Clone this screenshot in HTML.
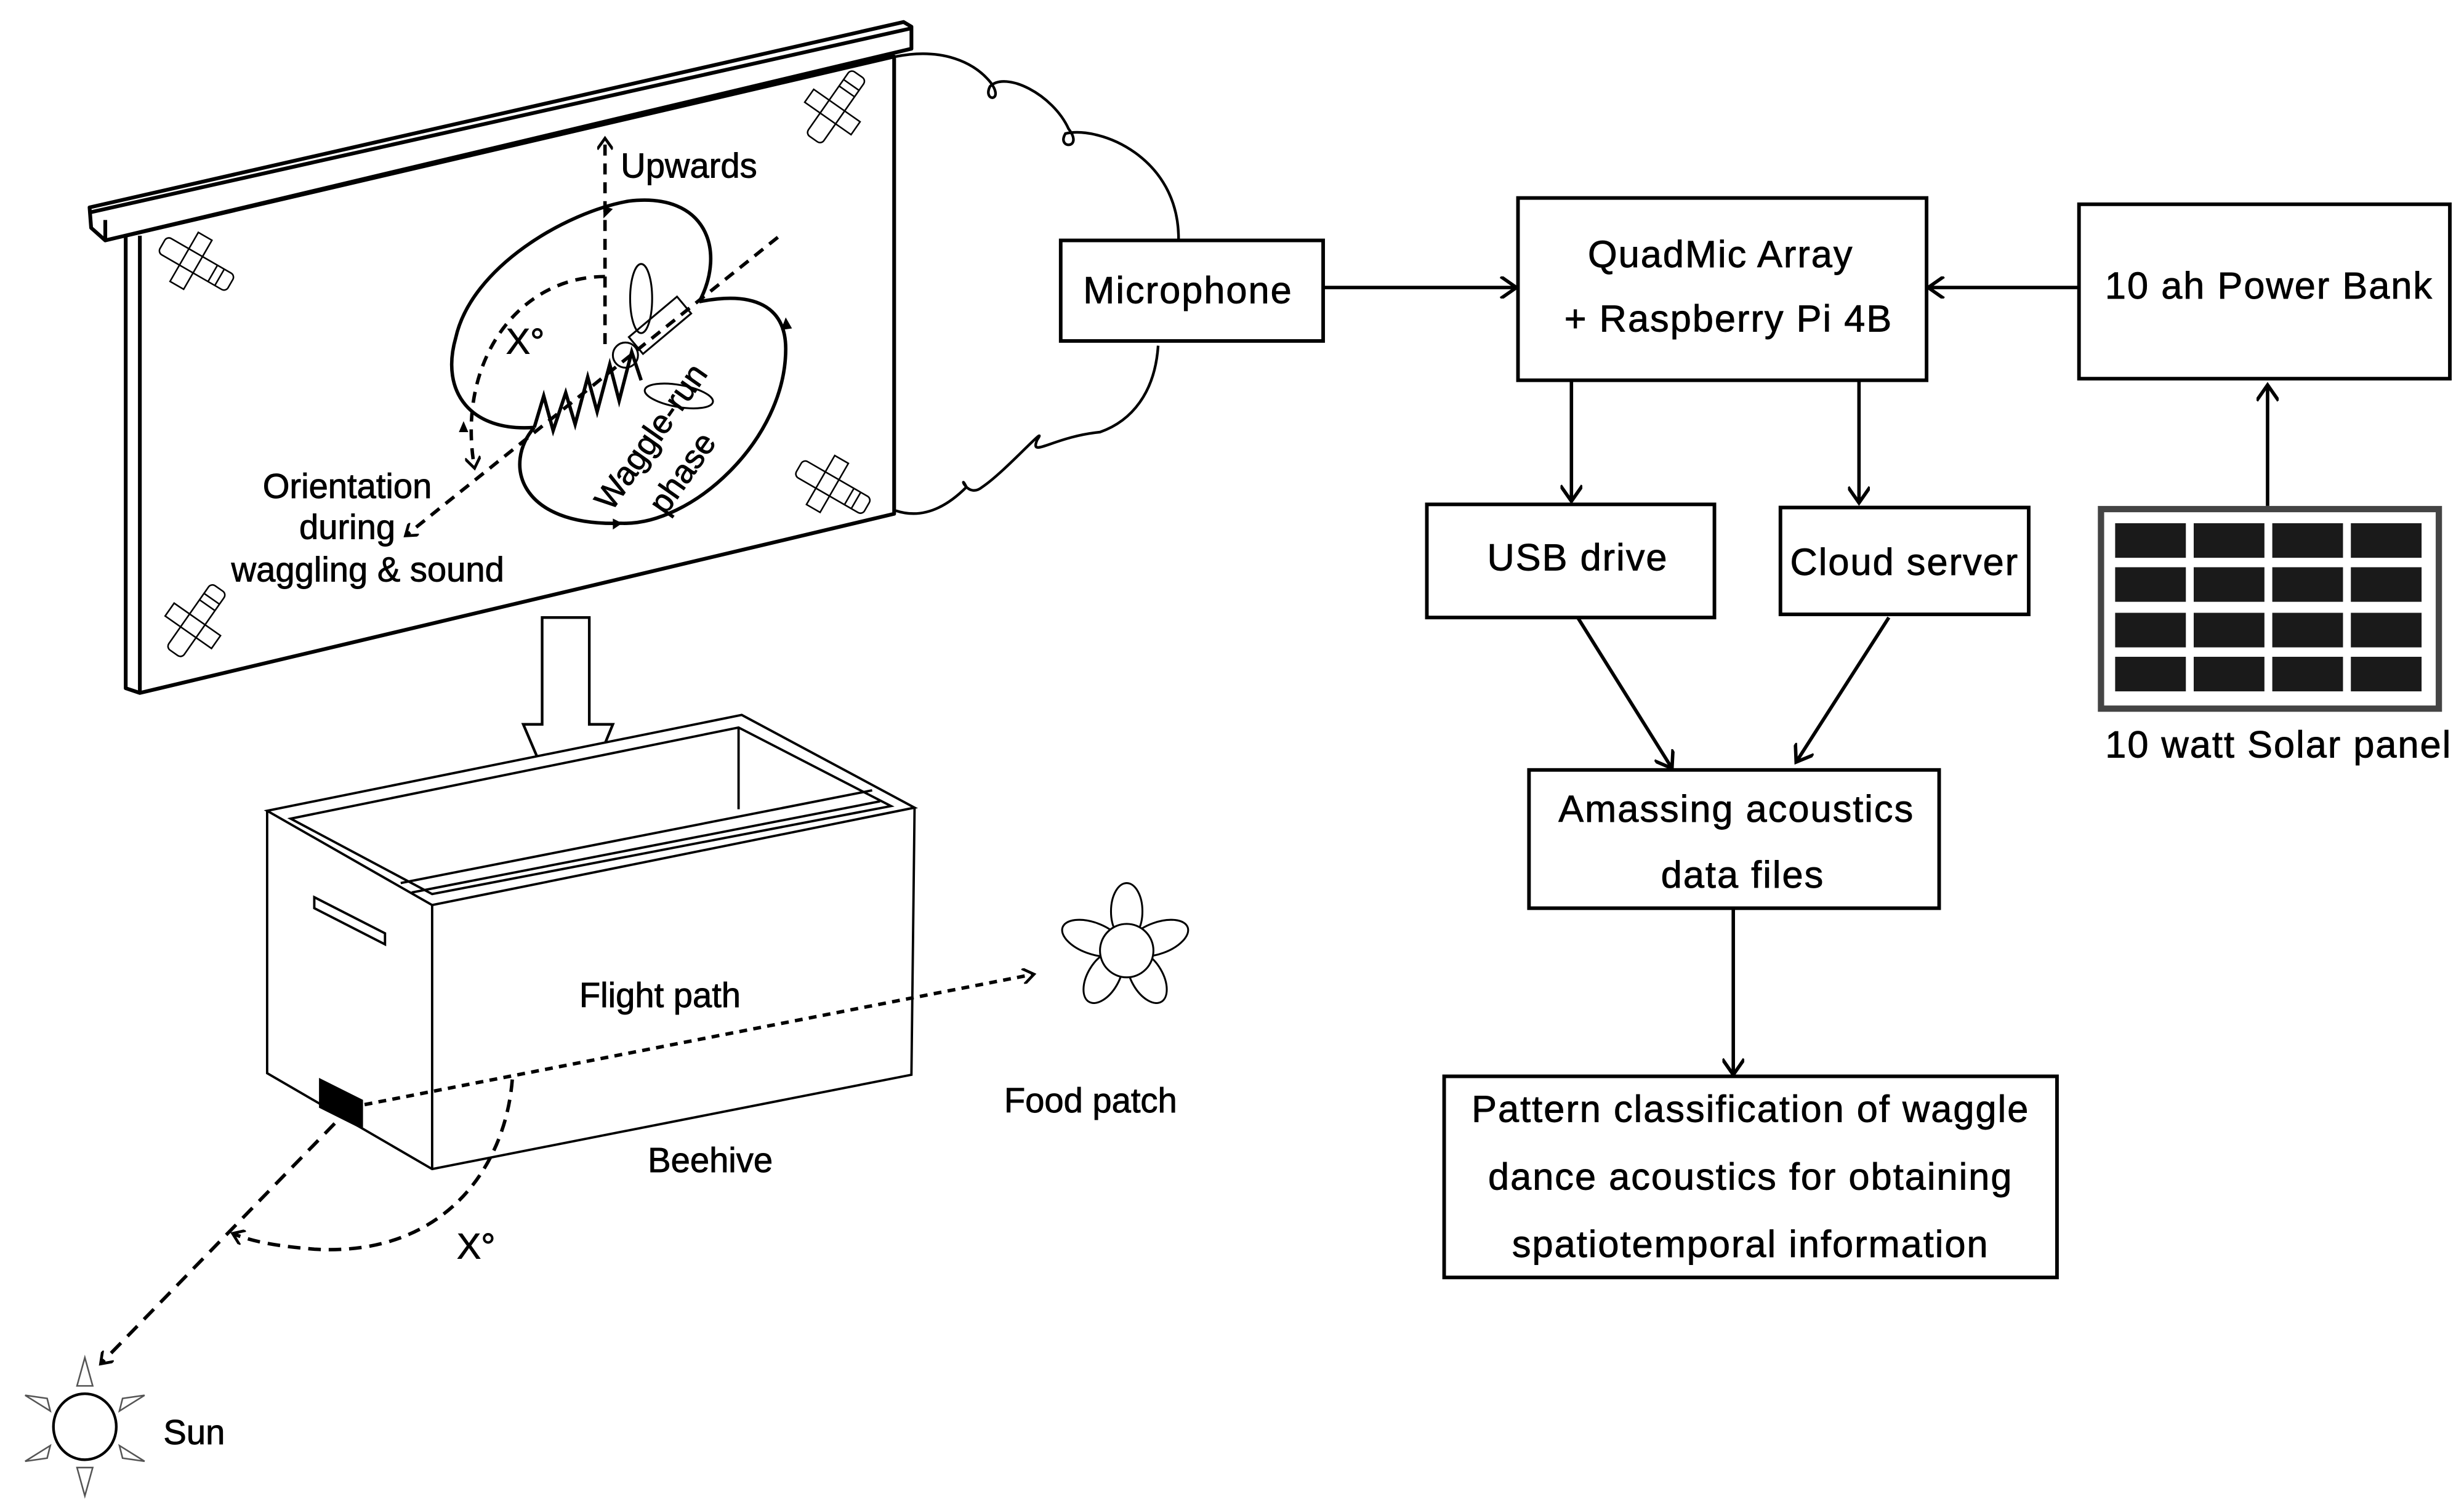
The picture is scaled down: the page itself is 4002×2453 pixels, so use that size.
<!DOCTYPE html>
<html><head><meta charset="utf-8"><style>
html,body{margin:0;padding:0;background:#fff;}
svg{display:block;}
text{font-family:"Liberation Sans",sans-serif;fill:#000;stroke:#000;stroke-width:0.35;}
</style></head><body>
<svg width="4002" height="2453" viewBox="0 0 1568 961" preserveAspectRatio="none" xmlns="http://www.w3.org/2000/svg">
<defs>
<marker id="oa" markerWidth="14" markerHeight="14" refX="11" refY="7" orient="auto" markerUnits="userSpaceOnUse">
<path d="M1,0 L11,7 L1,14" fill="none" stroke="#000" stroke-width="2.2"/></marker>
<marker id="sa" markerWidth="10" markerHeight="10" refX="8" refY="5" orient="auto" markerUnits="userSpaceOnUse">
<path d="M1,0 L8,5 L1,10" fill="none" stroke="#000" stroke-width="1.8"/></marker>
<marker id="fa" markerWidth="10" markerHeight="10" refX="8" refY="5" orient="auto" markerUnits="userSpaceOnUse">
<path d="M0,0 L9,5 L0,10 Z" fill="#000"/></marker>
<g id="tape" fill="#fff" stroke="#000" stroke-width="1">
<rect x="-25" y="-6" width="50" height="12" rx="3"/>
<line x1="12" y1="-6" x2="12" y2="6"/><line x1="17" y1="-6" x2="17" y2="6"/>
<rect x="-9" y="-18" width="10" height="36" fill="none"/>
</g>
</defs>
<rect width="1568" height="961" fill="#fff"/>

<!-- Frame -->
<g fill="#fff" stroke="#000" stroke-width="2.4" stroke-linejoin="round">
<polygon points="80,150 569,36 569,327 89,441 80,438"/>
<line x1="89" y1="150" x2="89" y2="441"/>
<polygon points="57,132 575,14 580,17 580,31 67,153 58,145"/>
<line x1="58" y1="135" x2="580" y2="18"/>
<line x1="67" y1="140" x2="67" y2="153"/>
</g>
<use href="#tape" transform="translate(125,168) rotate(30)"/>
<use href="#tape" transform="translate(532,68) rotate(-55)"/>
<use href="#tape" transform="translate(530,310) rotate(30)"/>
<use href="#tape" transform="translate(125,395) rotate(-55)"/>

<!-- Cloud wire -->
<path d="M570,36 C600,30 620,40 630,52 C640,65 625,65 630,55 C640,45 670,60 680,82 C690,95 672,95 678,85 C700,80 750,100 750,152" fill="none" stroke="#000" stroke-width="1.7"/>
<path d="M737,220 C735,250 720,268 700,275 C670,278 655,292 660,280 C668,268 640,300 625,310 C615,318 610,300 615,310 C600,325 585,330 570,325" fill="none" stroke="#000" stroke-width="1.7"/>

<!-- Dance figure -->
<g fill="none" stroke="#000" stroke-width="2.2">
<path d="M340,272 C300,275 280,250 290,215 C300,170 360,135 400,128 C450,122 462,160 445,192"/>
<path d="M445,192 C480,185 500,195 500,222 C500,280 440,335 395,333 C330,335 320,295 340,272"/>
<polyline points="340,272 346,252 352,274 360,250 366,270 374,240 380,262 388,232 394,255 402,224 408,242"/>
</g>
<path d="M384,139 l6,-6 l-6,-2 Z M497,210 l3,-8 l4,7 Z M390,330 l6,3 l-6,4 Z M298,275 l-3,-7 l-3,7 Z" fill="#000"/>
<g fill="none" stroke="#000" stroke-width="1.2">
<ellipse cx="408" cy="190" rx="7" ry="22"/>
<ellipse cx="432" cy="252" rx="22" ry="7" transform="rotate(10 432 252)"/>
<rect x="400" y="200" width="40" height="14" transform="rotate(-40 420 207)"/>
<circle cx="398" cy="226" r="8"/>
</g>
<g fill="none" stroke="#000" stroke-width="2.2" stroke-dasharray="7,5">
<line x1="385" y1="219" x2="385" y2="88" marker-end="url(#sa)"/>
<line x1="495" y1="151" x2="258" y2="341" marker-end="url(#sa)"/>
<path d="M385,176 C330,176 290,230 302,298" marker-end="url(#sa)"/>
</g>
<text x="395" y="113" font-size="22">Upwards</text>
<text x="322" y="225" font-size="23">X°</text>
<text transform="translate(420,282) rotate(-55)" font-size="21" text-anchor="middle">Waggle-run</text>
<text transform="translate(440,305) rotate(-55)" font-size="21" text-anchor="middle">phase</text>
<text x="221" y="317" font-size="22" text-anchor="middle">Orientation</text>
<text x="221" y="343" font-size="22" text-anchor="middle">during</text>
<text x="234" y="370" font-size="22" text-anchor="middle">waggling &amp; sound</text>

<!-- Big arrow -->
<path d="M345,393 L375,393 L375,461 L390,461 L362,529 L333,461 L345,461 Z" fill="#fff" stroke="#000" stroke-width="1.7"/>

<!-- Beehive -->
<g fill="none" stroke="#000" stroke-width="1.5">
<polygon points="170,516 275,576 582,514 472,455" fill="#fff"/>
<polyline points="170,516 170,683 275,744 580,684 582,514"/>
<line x1="275" y1="576" x2="275" y2="744"/>
<polygon points="185,521 470,463 567,513 275,569"/>
<line x1="255" y1="562" x2="555" y2="503"/>
<line x1="262" y1="568" x2="560" y2="510"/>
<line x1="470" y1="463" x2="470" y2="515"/>
<polygon points="200,571 245,594 245,601 200,578"/>
</g>
<polygon points="203,686 231,700 231,719 203,705" fill="#000"/>
<g fill="none" stroke="#000" stroke-width="2.2">
<line x1="232" y1="703" x2="658" y2="620" stroke-dasharray="5,4" marker-end="url(#sa)"/>
<line x1="213" y1="715" x2="64" y2="868" stroke-dasharray="9,6" marker-end="url(#sa)"/>
</g>
<path d="M326,687 C322,740 285,800 200,795 C175,793 160,790 148,785" fill="none" stroke="#000" stroke-width="2.2" stroke-dasharray="8,5" marker-end="url(#sa)"/>
<g fill="none" stroke="#000" stroke-width="1.2">
<ellipse cx="717" cy="580" rx="10" ry="18"/>
<ellipse cx="737" cy="597" rx="20" ry="10" transform="rotate(-20 737 597)"/>
<ellipse cx="730" cy="622" rx="10" ry="18" transform="rotate(-30 730 622)"/>
<ellipse cx="702" cy="622" rx="10" ry="18" transform="rotate(30 702 622)"/>
<ellipse cx="695" cy="597" rx="20" ry="10" transform="rotate(20 695 597)"/>
<circle cx="717" cy="605" r="17" fill="#fff"/>
</g>
<text x="420" y="641" font-size="22" text-anchor="middle">Flight path</text>
<text x="452" y="746" font-size="22" text-anchor="middle">Beehive</text>
<text x="694" y="708" font-size="22" text-anchor="middle">Food patch</text>
<text x="303" y="801" font-size="23" text-anchor="middle">X°</text>
<g fill="#fff" stroke="#555" stroke-width="1">
<ellipse cx="54" cy="908" rx="20" ry="21" stroke="#000" stroke-width="1.7"/>
<polygon points="54,864 49,882 59,882"/><polygon points="54,952 49,934 59,934"/>
<polygon points="16,888 32,898 30,890"/><polygon points="92,888 76,898 78,890"/>
<polygon points="16,930 32,920 30,928"/><polygon points="92,930 76,920 78,928"/>
</g>
<text x="104" y="919" font-size="22">Sun</text>

<!-- Block diagram -->
<g fill="#fff" stroke="#000" stroke-width="2.3">
<rect x="675" y="153" width="167" height="64"/>
<rect x="966" y="126" width="260" height="116"/>
<rect x="1323" y="130" width="236" height="111"/>
<rect x="908" y="321" width="183" height="72"/>
<rect x="1133" y="323" width="158" height="68"/>
<rect x="973" y="490" width="261" height="88"/>
<rect x="919" y="685" width="390" height="128"/>
</g>
<g fill="none" stroke="#000" stroke-width="2.2">
<line x1="842" y1="183" x2="965" y2="183" marker-end="url(#oa)"/>
<line x1="1323" y1="183" x2="1227" y2="183" marker-end="url(#oa)"/>
<line x1="1000" y1="242" x2="1000" y2="319" marker-end="url(#oa)"/>
<line x1="1183" y1="242" x2="1183" y2="320" marker-end="url(#oa)"/>
<line x1="1004" y1="393" x2="1064" y2="489" marker-end="url(#oa)"/>
<line x1="1202" y1="393" x2="1143" y2="485" marker-end="url(#oa)"/>
<line x1="1103" y1="578" x2="1103" y2="684" marker-end="url(#oa)"/>
<line x1="1443" y1="322" x2="1443" y2="245" marker-end="url(#oa)"/>
</g>
<rect x="1337" y="324" width="215" height="127" fill="#fff" stroke="#444" stroke-width="4"/>
<g fill="#1a1a1a">
<rect x="1346" y="333" width="45" height="22"/><rect x="1396" y="333" width="45" height="22"/><rect x="1446" y="333" width="45" height="22"/><rect x="1496" y="333" width="45" height="22"/>
<rect x="1346" y="361" width="45" height="22"/><rect x="1396" y="361" width="45" height="22"/><rect x="1446" y="361" width="45" height="22"/><rect x="1496" y="361" width="45" height="22"/>
<rect x="1346" y="390" width="45" height="22"/><rect x="1396" y="390" width="45" height="22"/><rect x="1446" y="390" width="45" height="22"/><rect x="1496" y="390" width="45" height="22"/>
<rect x="1346" y="418" width="45" height="22"/><rect x="1396" y="418" width="45" height="22"/><rect x="1446" y="418" width="45" height="22"/><rect x="1496" y="418" width="45" height="22"/>
</g>
<g font-size="24" text-anchor="middle" letter-spacing="0.8">
<text x="756" y="193">Microphone</text>
<text x="1095" y="170">QuadMic Array</text>
<text x="1100" y="211">+ Raspberry Pi 4B</text>
<text x="1444" y="190">10 ah Power Bank</text>
<text x="1004" y="363">USB drive</text>
<text x="1212" y="366">Cloud server</text>
<text x="1105" y="523">Amassing acoustics</text>
<text x="1109" y="565">data files</text>
<text x="1114" y="714">Pattern classification of waggle</text>
<text x="1114" y="757">dance acoustics for obtaining</text>
<text x="1114" y="800">spatiotemporal information</text>
<text x="1450" y="482">10 watt Solar panel</text>
</g>
</svg>
</body></html>
